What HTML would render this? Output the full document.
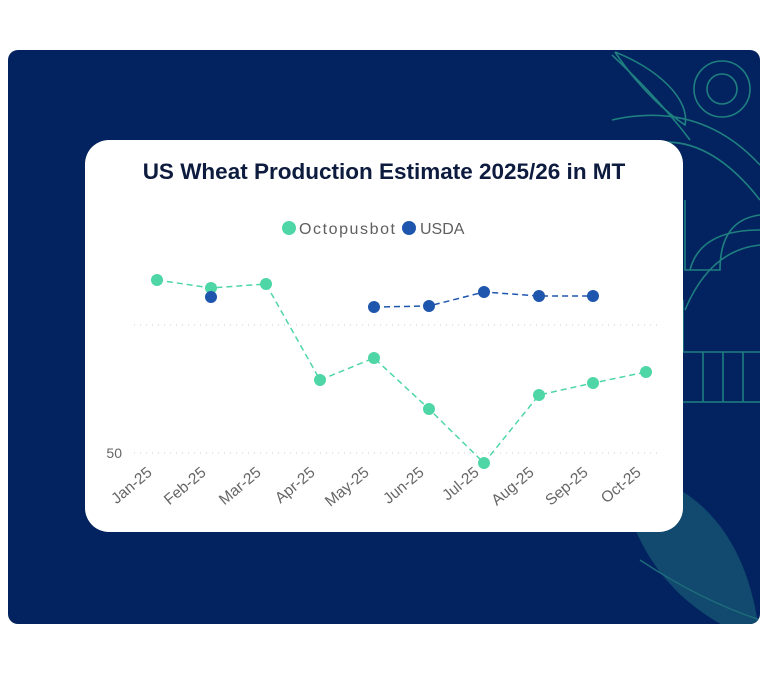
<!DOCTYPE html>
<html><head><style>
body{margin:0;width:768px;height:680px;background:#fff;overflow:hidden;font-family:"Liberation Sans",sans-serif}
</style></head><body>
<svg width="768" height="680" xmlns="http://www.w3.org/2000/svg" style="position:absolute;left:0;top:0">
<defs><clipPath id="bg"><rect x="8" y="50" width="752" height="574" rx="10"/></clipPath></defs>
<rect x="8" y="50" width="752" height="574" rx="10" fill="#02235f"/>
<g clip-path="url(#bg)" fill="none" stroke="#1f7f80" stroke-width="1.6">
<path d="M760 640 C690 620 630 560 620 470 C700 480 750 540 760 640Z" fill="#11496f" stroke="none"/>
<path d="M760 620 Q700 600 640 560" stroke="#1c6a7a"/>
<circle cx="722" cy="89" r="28"/><circle cx="722" cy="89" r="15"/>
<path d="M615 52 C640 90 670 115 685 125 C690 100 660 70 615 52"/>
<path d="M612 55 Q660 100 690 140"/>
<path d="M612 120 Q700 100 760 165"/>
<path d="M612 160 Q690 110 760 200"/>
<path d="M685 200 L685 270 L720 270 Q720 220 760 215"/>
<path d="M690 270 Q700 230 760 230"/>
<path d="M685 310 Q710 250 760 245"/>
<path d="M683 352 L760 352 M683 402 L760 402 M703 352 L703 402 M723 352 L723 402 M743 352 L743 402"/>
<path d="M683 300 L683 352"/>
</g>
<rect x="85" y="140" width="598" height="392" rx="24" fill="#fff"/>
<text x="384" y="179" text-anchor="middle" font-size="22.5" font-weight="bold" fill="#0d1b3e">US Wheat Production Estimate 2025/26 in MT</text>
<circle cx="289" cy="228" r="7" fill="#4fd6a6"/>
<text x="299" y="234" font-size="16" fill="#5f5f5f" textLength="96">Octopusbot</text>
<circle cx="409" cy="228" r="7" fill="#1f56ad"/>
<text x="420" y="234" font-size="16" fill="#5f5f5f">USDA</text>
<g stroke="#ccc" stroke-dasharray="1 5" stroke-width="1">
<line x1="134" y1="325" x2="660" y2="325"/><line x1="134" y1="453" x2="660" y2="453"/>
</g>
<text x="122" y="458" text-anchor="end" font-size="14" fill="#666">50</text>
<polyline points="157,280 211,288 266,284 320,380 374,358 429,409 484,463 539,395 593,383 646,372" fill="none" stroke="#4fd6a6" stroke-width="1.5" stroke-dasharray="6 4"/>
<polyline points="374,307 429,306 484,292 539,296 593,296" fill="none" stroke="#1f56ad" stroke-width="1.5" stroke-dasharray="6 4"/>
<g fill="#4fd6a6">
<circle cx="157" cy="280" r="6"/><circle cx="211" cy="288" r="6"/><circle cx="266" cy="284" r="6"/><circle cx="320" cy="380" r="6"/><circle cx="374" cy="358" r="6"/><circle cx="429" cy="409" r="6"/><circle cx="484" cy="463" r="6"/><circle cx="539" cy="395" r="6"/><circle cx="593" cy="383" r="6"/><circle cx="646" cy="372" r="6"/>
</g>
<g fill="#1f56ad">
<circle cx="211" cy="297" r="6"/><circle cx="374" cy="307" r="6"/><circle cx="429" cy="306" r="6"/><circle cx="484" cy="292" r="6"/><circle cx="539" cy="296" r="6"/><circle cx="593" cy="296" r="6"/>
</g>
<g font-size="15.5" fill="#666" text-anchor="end">
<text transform="translate(153,474) rotate(-40)">Jan-25</text>
<text transform="translate(207,474) rotate(-40)">Feb-25</text>
<text transform="translate(262,474) rotate(-40)">Mar-25</text>
<text transform="translate(316,474) rotate(-40)">Apr-25</text>
<text transform="translate(370,474) rotate(-40)">May-25</text>
<text transform="translate(425,474) rotate(-40)">Jun-25</text>
<text transform="translate(480,474) rotate(-40)">Jul-25</text>
<text transform="translate(535,474) rotate(-40)">Aug-25</text>
<text transform="translate(589,474) rotate(-40)">Sep-25</text>
<text transform="translate(642,474) rotate(-40)">Oct-25</text>
</g>
</svg>
</body></html>
